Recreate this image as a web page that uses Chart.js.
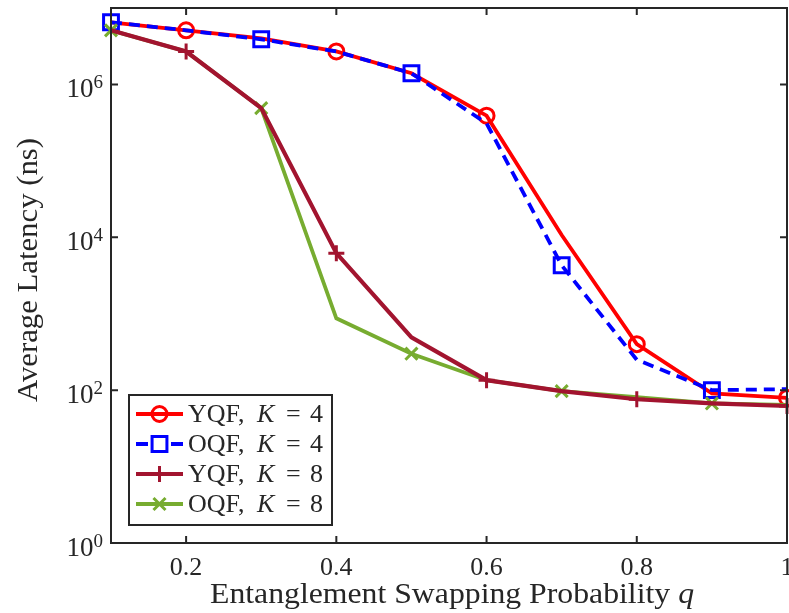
<!DOCTYPE html>
<html><head><meta charset="utf-8">
<script src="https://cdn.jsdelivr.net/npm/chart.js@4"></script>
<style>html,body{margin:0;padding:0;background:#fff}canvas{display:block}</style>
</head><body>
<canvas id="c" width="789" height="613"></canvas>
<script>
// ---- data ----
const qValues = [0.1, 0.2, 0.3, 0.4, 0.5, 0.6, 0.7, 0.8, 0.9, 1.0];
const yqfK4 = [6.5e6, 5.1e6, 4.0e6, 2.7e6, 1.4e6, 3.9e5, 1.07e4, 400, 91, 79];
const oqfK4 = [6.5e6, 5.1e6, 3.9e6, 2.7e6, 1.4e6, 3.1e5, 4300, 250, 100, 103];
const yqfK8 = [5.1e6, 2.7e6, 4.9e5, 6200, 490, 135, 97, 76, 67, 62];
const oqfK8 = [5.1e6, 2.7e6, 4.9e5, 870, 300, 135, 97, 81, 67, 64];
const xTickValues = [0.2, 0.4, 0.6, 0.8, 1];
const xTickLabels = ['0.2', '0.4', '0.6', '0.8', '1'];
const yTickExponents = [0, 2, 4, 6];
const seriesNames = ['YQF', 'OQF', 'YQF', 'OQF'];
const seriesK = ['4', '4', '8', '8'];

const FONT = '"Liberation Serif", "Times New Roman", serif';
const AXC = '#262626';

// keep the plot area fixed regardless of marker sizes at the ends
(Chart.registry.getController('line')).prototype.getMaxOverflow = function () { return 0; };

function pts(arr) { return qValues.map((q, i) => ({ x: q, y: arr[i] })); }
function radii(r, startOdd) { return qValues.map((q, i) => ((i % 2 === 1) === startOdd ? r : 0)); }

const styles = [
  { color: '#FF0000', pointStyle: 'circle', r: 7.5, lw: 3.8, dash: [], odd: true },
  { color: '#0000FF', pointStyle: 'rect', r: 10.5, lw: 3.8, dash: [11, 7], odd: false },
  { color: '#A2142F', pointStyle: 'cross', r: 8, lw: 4.2, dash: [], odd: true },
  { color: '#77AC30', pointStyle: 'crossRot', r: 8.5, lw: 3.8, dash: [], odd: false }
];
const seriesData = [yqfK4, oqfK4, yqfK8, oqfK8];
const drawOrder = [4, 3, 1, 2];

const datasets = seriesData.map((d, i) => ({
  label: seriesNames[i] + ', K = ' + seriesK[i],
  data: pts(d),
  borderColor: styles[i].color,
  borderWidth: styles[i].lw,
  borderDash: styles[i].dash,
  pointStyle: styles[i].pointStyle,
  pointRadius: radii(styles[i].r, styles[i].odd),
  pointBorderColor: styles[i].color,
  pointBackgroundColor: 'rgba(0,0,0,0)',
  pointBorderWidth: 3,
  pointHoverRadius: 0,
  tension: 0,
  clip: false,
  order: drawOrder[i]
}));

function scaledText(ctx, text, x, y, targetW) {
  const w = ctx.measureText(text).width;
  ctx.save();
  ctx.translate(x, y);
  ctx.scale(targetW / w, 1);
  ctx.textAlign = 'center';
  ctx.fillText(text, 0, 0);
  ctx.restore();
}

const decor = {
  id: 'decor',
  afterDraw(chart) {
    const ctx = chart.ctx, a = chart.chartArea;
    const xs = chart.scales.x, ys = chart.scales.y;
    ctx.save();
    // box
    ctx.strokeStyle = AXC; ctx.lineWidth = 2; ctx.setLineDash([]);
    ctx.strokeRect(a.left, a.top, a.right - a.left, a.bottom - a.top);
    // ticks
    const tl = 7;
    ctx.beginPath();
    xTickValues.forEach(v => {
      const x = xs.getPixelForValue(v);
      ctx.moveTo(x, a.bottom); ctx.lineTo(x, a.bottom - tl);
      ctx.moveTo(x, a.top); ctx.lineTo(x, a.top + tl);
    });
    yTickExponents.forEach(e => {
      const y = ys.getPixelForValue(Math.pow(10, e));
      ctx.moveTo(a.left, y); ctx.lineTo(a.left + tl, y);
      ctx.moveTo(a.right, y); ctx.lineTo(a.right - tl, y);
    });
    ctx.stroke();
    // x tick labels
    ctx.fillStyle = AXC;
    ctx.font = '26px ' + FONT;
    ctx.textAlign = 'center'; ctx.textBaseline = 'alphabetic';
    xTickValues.forEach((v, i) => {
      ctx.fillText(xTickLabels[i], xs.getPixelForValue(v), a.bottom + 32);
    });
    // y tick labels 10^e
    yTickExponents.forEach(e => {
      const y = ys.getPixelForValue(Math.pow(10, e));
      ctx.font = '19px ' + FONT;
      const sw = ctx.measureText(String(e)).width;
      const right = a.left - 8;
      ctx.textAlign = 'left';
      ctx.fillText(String(e), right - sw, y + 4);
      ctx.font = '27px ' + FONT;
      ctx.textAlign = 'right';
      ctx.fillText('10', right - sw, y + 13);
    });
    // x title
    ctx.font = '29px ' + FONT;
    const t1 = 'Entanglement Swapping Probability ';
    const w1 = ctx.measureText(t1).width;
    ctx.font = 'italic 29px ' + FONT;
    const w2 = ctx.measureText('q').width;
    const targetW = 484, k = targetW / (w1 + w2);
    ctx.save();
    ctx.translate(452 - targetW / 2, 603);
    ctx.scale(k, 1);
    ctx.textAlign = 'left';
    ctx.font = '29px ' + FONT;
    ctx.fillText(t1, 0, 0);
    ctx.font = 'italic 29px ' + FONT;
    ctx.fillText('q', w1, 0);
    ctx.restore();
    // y title
    ctx.save();
    ctx.translate(37, 270);
    ctx.rotate(-Math.PI / 2);
    ctx.font = '29px ' + FONT;
    scaledText(ctx, 'Average Latency (ns)', 0, 0, 264);
    ctx.restore();
    // legend
    const L = 129, T = 395, R = 332, B = 525;
    ctx.fillStyle = '#fff';
    ctx.fillRect(L, T, R - L, B - T);
    ctx.strokeStyle = AXC; ctx.lineWidth = 2;
    ctx.strokeRect(L, T, R - L, B - T);
    const rows = [414, 444, 474, 504];
    chart.data.datasets.forEach((ds, i) => {
      const y = rows[i], st = styles[i];
      ctx.strokeStyle = st.color; ctx.lineWidth = st.lw;
      ctx.setLineDash(st.dash.length ? [12, 23] : []);
      ctx.beginPath(); ctx.moveTo(136, y); ctx.lineTo(183, y); ctx.stroke();
      ctx.setLineDash([]);
      ctx.strokeStyle = st.color; ctx.fillStyle = 'rgba(0,0,0,0)'; ctx.lineWidth = 3;
      Chart.helpers.drawPoint(ctx, {
        pointStyle: st.pointStyle, radius: st.r, borderWidth: 3, rotation: 0
      }, 159.5, y);
      ctx.fillStyle = AXC;
      ctx.textAlign = 'left';
      const by = y + 8;
      ctx.font = '26px ' + FONT;
      ctx.fillText(seriesNames[i] + ',', 188, by);
      ctx.font = 'italic 26px ' + FONT;
      ctx.fillText('K', 257, by);
      ctx.font = '26px ' + FONT;
      ctx.fillText('=', 286, by);
      ctx.fillText(seriesK[i], 310, by);
    });
    ctx.restore();
  }
};

new Chart(document.getElementById('c'), {
  type: 'line',
  data: { datasets },
  options: {
    responsive: false,
    animation: false,
    devicePixelRatio: 1,
    layout: { autoPadding: false, padding: { top: 8, right: 2, left: 0, bottom: 0 } },
    plugins: { legend: { display: false }, tooltip: { enabled: false } },
    scales: {
      x: {
        type: 'linear', min: 0.1, max: 1,
        ticks: { display: false },
        grid: { display: false },
        border: { display: false },
        afterFit: s => { s.height = 70; }
      },
      y: {
        type: 'logarithmic', min: 1, max: 1e7,
        ticks: { display: false },
        grid: { display: false },
        border: { display: false },
        afterFit: s => { s.width = 111; }
      }
    }
  },
  plugins: [decor]
});
</script>
</body></html>
